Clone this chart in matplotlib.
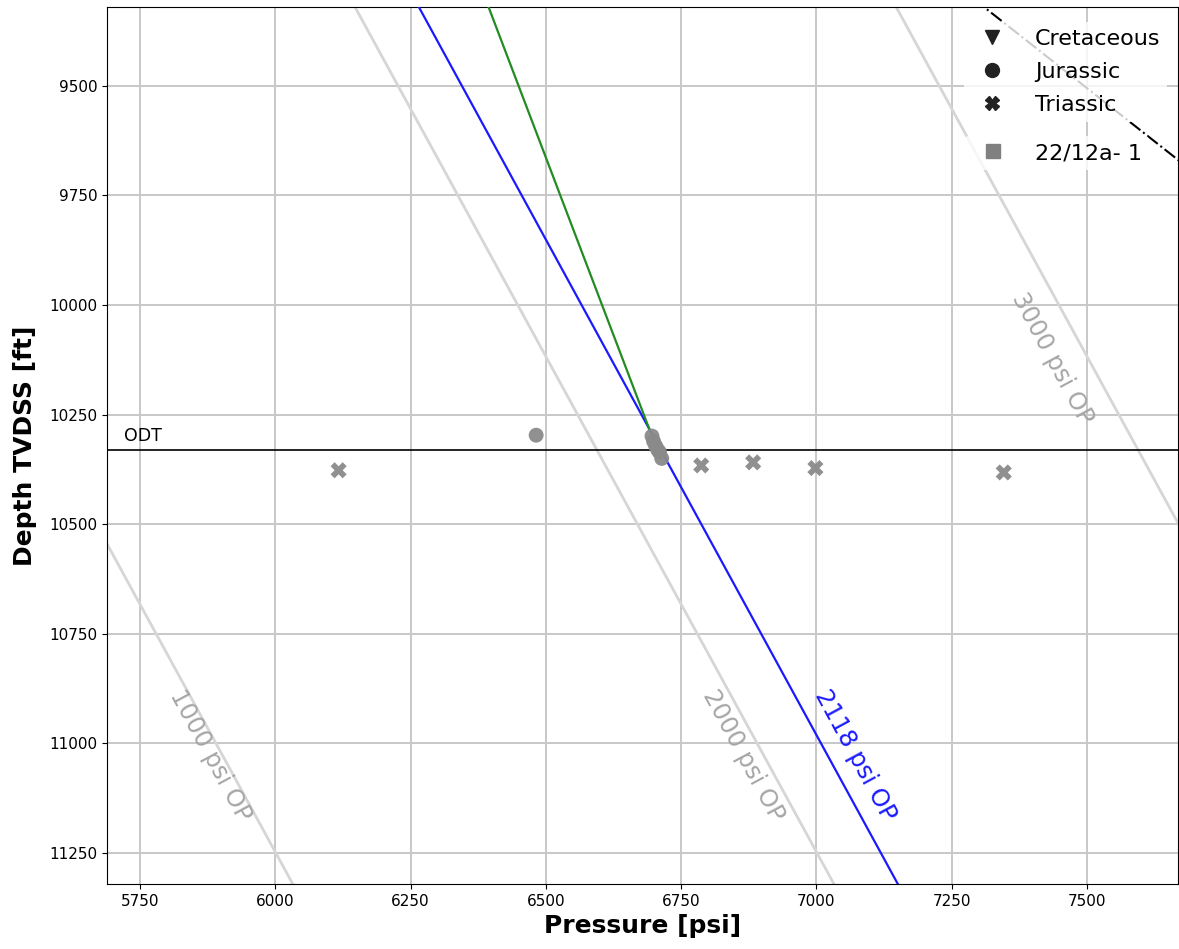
import matplotlib
matplotlib.use("Agg")
import matplotlib.pyplot as plt
from matplotlib.lines import Line2D
import numpy as np

# ---- data ----
jurassic_p = [6482, 6696, 6699, 6703, 6707, 6710, 6714]
jurassic_z = [10297, 10299, 10311, 10322, 10331, 10336, 10350]
triassic_p = [6117, 6787, 6883, 6998, 7346]
triassic_z = [10377, 10366, 10359, 10372, 10382]

op_values = [1000, 2000, 3000]
op_label_p = [5879, 6864, 7435]
op_label_z = [11028, 11028, 10121]
blue_op = 2118
blue_label = (7072, 11028)
hydro_gradient = 0.4423   # psi/ft
hydro_offset = 25.0       # psi

green_p = [6357, 6692]
green_z = [9200, 10286]
litho_p = [7186, 7803]
litho_z = [9200, 9800]

odt_depth = 10331
xticks = [5750, 6000, 6250, 6500, 6750, 7000, 7250, 7500]
yticks = [9500, 9750, 10000, 10250, 10500, 10750, 11000, 11250]

# ---- figure ----
fig = plt.figure(figsize=(11.79, 9.49), dpi=100)
ax = fig.add_axes([107/1179, (949-884)/949, (1178-107)/1179, (884-7)/949])

ax.set_xlim(5689, 7668)
ax.set_ylim(11321, 9320)
ax.set_xticks(xticks)
ax.set_yticks(yticks)
ax.grid(True, color='#c8c8c8', lw=1.4, zorder=0)
ax.set_axisbelow(True)

zz = np.array([9000, 11600])
for op in op_values:
    ax.plot(hydro_gradient*zz + hydro_offset + op, zz, color='#d6d6d6', lw=2, zorder=1)
for op, lp, lz in zip(op_values, op_label_p, op_label_z):
    ax.text(lp, lz, f"{op} psi OP", color='#a6a6a6', fontsize=17.5,
            rotation=-61.6, ha='center', va='center', zorder=2)

ax.plot(hydro_gradient*zz + hydro_offset + blue_op, zz, color='#1a1aff', lw=1.6, zorder=3)
ax.text(blue_label[0], blue_label[1], f"{blue_op} psi OP", color='#1a1aff', fontsize=17.5,
        rotation=-61.6, ha='center', va='center', zorder=3)

ax.plot(green_p, green_z, color='#228b22', lw=1.6, zorder=3)
ax.plot(litho_p, litho_z, color='black', lw=1.5, ls='-.', zorder=2)

ax.axhline(odt_depth, color='black', lw=1.2, zorder=3)
ax.text(5720, odt_depth - 12, "ODT", fontsize=12.5, ha='left', va='bottom')

ax.scatter(jurassic_p, jurassic_z, marker='o', s=115, color='#8a8a8a', alpha=0.95,
           edgecolors='none', zorder=4)
ax.scatter(triassic_p, triassic_z, marker='X', s=135, color='#8a8a8a', alpha=0.95,
           edgecolors='none', zorder=4)

ax.tick_params(labelsize=11)
ax.set_xlabel("Pressure [psi]", fontsize=18, fontweight='bold')
ax.set_ylabel("Depth TVDSS [ft]", fontsize=18, fontweight='bold', labelpad=9)

handles = [
    Line2D([], [], marker='v', color='#222222', ls='none', markersize=10),
    Line2D([], [], marker='o', color='#222222', ls='none', markersize=10),
    Line2D([], [], marker='X', color='#222222', ls='none', markersize=10),
]
labels = ["Cretaceous", "Jurassic", "Triassic"]
leg1 = ax.legend(handles, labels, loc='upper right', fontsize=16, frameon=True,
                 framealpha=0.8, edgecolor='none', bbox_to_anchor=(1.0, 0.995),
                 labelspacing=0.58, borderpad=0.3, handletextpad=0.9)
leg1.set_zorder(10)
ax.add_artist(leg1)
leg2 = ax.legend([Line2D([], [], marker='s', color='#808080', ls='none', markersize=10)],
                 ["22/12a- 1"], loc='center left', fontsize=16, frameon=True,
                 framealpha=0.8, edgecolor='none', bbox_to_anchor=(0.8005, 0.8335),
                 borderpad=0.3, handletextpad=0.9, borderaxespad=0)
leg2.set_zorder(10)

fig.savefig("out.png", dpi=100)
